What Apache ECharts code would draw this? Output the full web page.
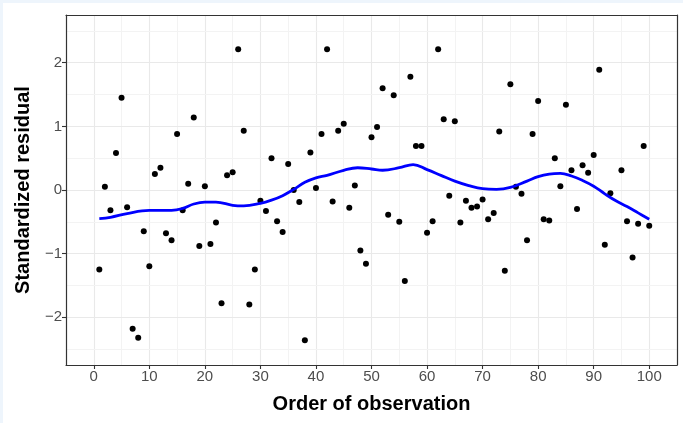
<!DOCTYPE html>
<html><head><meta charset="utf-8">
<script src="https://cdn.jsdelivr.net/npm/echarts@6/dist/echarts.min.js"></script>
<style>
html,body{margin:0;padding:0;background:#eef5fc;width:683px;height:423px;overflow:hidden}
#c{position:absolute;left:3px;top:3px;width:680px;height:420px;background:#fff}
</style></head><body><div id="c"></div>
<script>
const obsIndex = [];
for (let i = 1; i <= 100; i++) obsIndex.push(i);
const residuals = [
 -1.25, 0.05, -0.32, 0.58, 1.45, -0.27, -2.18, -2.32, -0.65, -1.20,
  0.25, 0.35, -0.68, -0.79, 0.88, -0.32, 0.10, 1.14, -0.88, 0.06,
 -0.85, -0.51, -1.78, 0.23, 0.28, 2.21, 0.93, -1.80, -1.25, -0.17,
 -0.33, 0.50, -0.49, -0.66, 0.41, 0.00, -0.19, -2.36, 0.59, 0.03,
  0.88, 2.21, -0.18, 0.93, 1.04, -0.28, 0.07, -0.95, -1.16, 0.83,
  0.99, 1.60, -0.39, 1.49, -0.50, -1.43, 1.78, 0.69, 0.69, -0.67,
 -0.49, 2.21, 1.11, -0.09, 1.08, -0.51, -0.17, -0.28, -0.26, -0.15,
 -0.46, -0.36, 0.92, -1.27, 1.66, 0.05, -0.06, -0.79, 0.88, 1.40,
 -0.46, -0.48, 0.50, 0.06, 1.34, 0.31, -0.30, 0.39, 0.27, 0.55,
  1.89, -0.86, -0.05, null, 0.31, -0.49, -1.06, -0.53, 0.69, -0.56
];
const smoothX = [1, 3, 6, 10, 14, 16, 18, 20, 22, 25, 27, 30, 32, 34, 36, 38, 40, 42, 45, 47.5, 50, 52, 55, 57.5, 60, 62.5, 65, 67.5, 70, 72.5, 75, 78, 80, 82, 84, 86, 88, 90, 92, 94, 96, 98, 100];
const smoothY = [-0.45, -0.43, -0.37, -0.32, -0.32, -0.29, -0.22, -0.19, -0.19, -0.24, -0.25, -0.21, -0.16, -0.09, 0.01, 0.12, 0.19, 0.23, 0.31, 0.35, 0.33, 0.31, 0.35, 0.40, 0.32, 0.23, 0.14, 0.07, 0.02, 0.01, 0.04, 0.14, 0.21, 0.25, 0.26, 0.22, 0.15, 0.06, -0.06, -0.17, -0.26, -0.36, -0.46];
const xTicks = [0, 10, 20, 30, 40, 50, 60, 70, 80, 90, 100];
const yTicks = [-2, -1, 0, 1, 2];

const chart = echarts.init(document.getElementById('c'), null, {renderer: 'canvas'});
const fmtY = v => (v < 0 ? '\u2212' + Math.abs(v) : String(v));
const FONT = 'Liberation Sans';
const border = {show: true, onZero: false, lineStyle: {color: '#333', width: 1.2}};
chart.setOption({
  animation: false,
  backgroundColor: '#fff',
  grid: {left: 63, top: 12, right: 6, bottom: 58, show: false},
  xAxis: [
    {type: 'value', min: -5, max: 105, interval: 5, position: 'top', z: 1,
     axisLine: border, axisTick: {show: false}, axisLabel: {show: false},
     splitLine: {show: true, lineStyle: {color: ['#f3f3f3', '#e9e9e9'], width: 1.1}}},
    {type: 'value', min: -5, max: 105, position: 'bottom', z: 1,
     axisLine: border,
     axisTick: {show: true, customValues: xTicks, length: 4, lineStyle: {color: '#333', width: 1.1}},
     axisLabel: {customValues: xTicks, color: '#4d4d4d', fontSize: 15, fontFamily: FONT, margin: 4},
     splitLine: {show: false},
     name: 'Order of observation', nameLocation: 'middle', nameGap: 29,
     nameTextStyle: {fontWeight: 'bold', fontSize: 20, color: '#000', fontFamily: FONT}}
  ],
  yAxis: [
    {type: 'value', min: -2.75, max: 2.75, interval: 0.25, position: 'right', z: 2,
     axisLine: border, axisTick: {show: false}, axisLabel: {show: false},
     splitLine: {show: true, lineStyle: {color: ['rgba(0,0,0,0)', '#f3f3f3', 'rgba(0,0,0,0)', '#e9e9e9'], width: 1.1}}},
    {type: 'value', min: -2.75, max: 2.75, position: 'left', z: 2,
     axisLine: border,
     axisTick: {show: true, customValues: yTicks, length: 4, lineStyle: {color: '#333', width: 1.1}},
     axisLabel: {customValues: yTicks, color: '#4d4d4d', fontSize: 15, fontFamily: FONT, margin: 4, formatter: fmtY},
     splitLine: {show: false},
     name: 'Standardized residual', nameLocation: 'middle', nameGap: 33, nameRotate: 90,
     nameTextStyle: {fontWeight: 'bold', fontSize: 20, color: '#000', fontFamily: FONT}}
  ],
  series: [
    {type: 'scatter', xAxisIndex: 0, yAxisIndex: 0, symbolSize: 6,
     itemStyle: {color: '#000', opacity: 1},
     data: obsIndex.map((x, i) => [x, residuals[i]]).filter(d => d[1] !== null), z: 3},
    {type: 'line', xAxisIndex: 0, yAxisIndex: 0, smooth: 0.4, showSymbol: false, symbol: 'none',
     lineStyle: {color: '#0000ff', width: 2.8},
     data: smoothX.map((x, i) => [x, smoothY[i]]), z: 4}
  ]
});
</script></body></html>
